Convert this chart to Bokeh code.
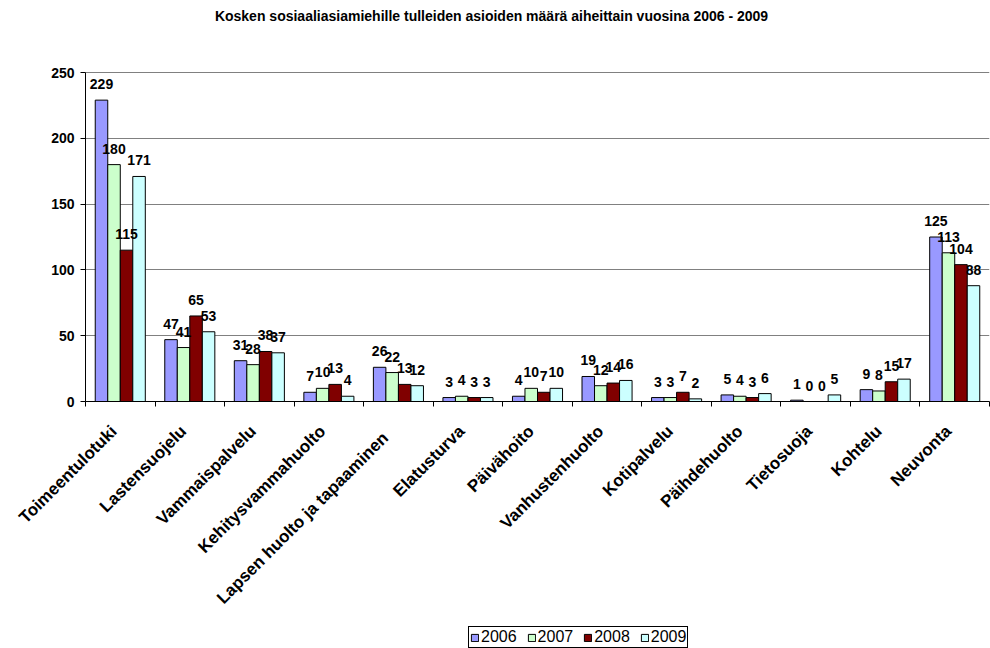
from bokeh.plotting import figure
from bokeh.layouts import column
from bokeh.models import Range1d, FixedTicker, Legend, LegendItem, ColumnDataSource, Label
from bokeh.embed import file_html
from bokeh.resources import INLINE
from bokeh.core.properties import value

title_text = "Kosken sosiaaliasiamiehille tulleiden asioiden määrä aiheittain vuosina 2006 - 2009"
categories = ["Toimeentulotuki", "Lastensuojelu", "Vammaispalvelu", "Kehitysvammahuolto",
              "Lapsen  huolto ja  tapaaminen", "Elatusturva", "Päivähoito", "Vanhustenhuolto",
              "Kotipalvelu", "Päihdehuolto", "Tietosuoja", "Kohtelu", "Neuvonta"]
years = ["2006", "2007", "2008", "2009"]
v2006 = [229, 47, 31, 7, 26, 3, 4, 19, 3, 5, 1, 9, 125]
v2007 = [180, 41, 28, 10, 22, 4, 10, 12, 3, 4, 0, 8, 113]
v2008 = [115, 65, 38, 13, 13, 3, 7, 14, 7, 3, 0, 15, 104]
v2009 = [171, 53, 37, 4, 12, 3, 10, 16, 2, 6, 5, 17, 88]
y_ticks = [0, 50, 100, 150, 200, 250]
colors = ["#9999FF", "#CCFFCC", "#800000", "#CCFFFF"]

series = [v2006, v2007, v2008, v2009]
offsets = [-0.27, -0.09, 0.09, 0.27]
bar_w = 0.18
FONT = "Liberation Sans"

n = len(categories)
centers = [i + 0.5 for i in range(n)]

# layout (pixels)
W = 990
H_CHART = 622
FRAME_LEFT = 85
FRAME_RIGHT_PAD = 1
AXIS_Y = 401          # pixel row of value 0
TOP_Y = 72            # pixel row of value 250
y_max = y_ticks[-1]
y_end = y_max * AXIS_Y / (AXIS_Y - TOP_Y)

p = figure(width=W, height=H_CHART, output_backend="svg", toolbar_location=None,
           x_range=Range1d(0, n), y_range=Range1d(0, y_end),
           min_border_left=FRAME_LEFT, min_border_right=FRAME_RIGHT_PAD,
           min_border_top=0, min_border_bottom=H_CHART - AXIS_Y)
p.outline_line_color = None
p.background_fill_color = "white"
p.border_fill_color = "white"

sources = []
for yr, vals, col, off in zip(years, series, colors, offsets):
    src = ColumnDataSource(dict(x=[c + off for c in centers], top=vals,
                                lab=[str(v) for v in vals]))
    sources.append(src)
    p.vbar(x="x", top="top", bottom=0, width=bar_w, source=src,
           fill_color=col, line_color="black", line_width=1)

for src in sources:
    p.text(x="x", y="top", text="lab", source=src, text_align="center",
           text_baseline="bottom", y_offset=-11, text_font=value(FONT),
           text_font_style="bold", text_font_size="14px", text_color="black")

title = Label(x=491 - FRAME_LEFT, y=AXIS_Y - 15, x_units="screen", y_units="screen",
              text=title_text, text_align="center", text_baseline="middle",
              text_font=FONT, text_font_style="bold", text_font_size="14px",
              text_color="black")
p.add_layout(title)

# x axis
lab_shift = 0.09
label_pos = [round(c - lab_shift, 4) for c in centers]
p.xaxis.ticker = FixedTicker(ticks=label_pos, minor_ticks=list(range(n + 1)))
p.xaxis.major_label_overrides = {lp: name for lp, name in zip(label_pos, categories)}
p.xaxis.major_label_orientation = 0.785398
p.xaxis.major_tick_out = 0
p.xaxis.major_tick_in = 0
p.xaxis.minor_tick_out = 5
p.xaxis.minor_tick_in = 0
p.xaxis.minor_tick_line_color = "black"
p.xaxis.major_label_standoff = 22
p.xaxis.major_label_text_font = FONT
p.xaxis.major_label_text_font_style = "bold"
p.xaxis.major_label_text_font_size = "17px"
p.xaxis.major_label_text_color = "black"
p.xaxis.axis_line_color = "black"
p.xgrid.visible = False

# y axis
p.yaxis.ticker = FixedTicker(ticks=y_ticks)
p.yaxis.bounds = (0, y_max)
p.yaxis.major_tick_out = 5
p.yaxis.major_tick_in = 0
p.yaxis.minor_tick_line_color = None
p.yaxis.major_label_standoff = 6
p.yaxis.major_label_text_font = FONT
p.yaxis.major_label_text_font_style = "bold"
p.yaxis.major_label_text_font_size = "14px"
p.yaxis.major_label_text_color = "black"
p.yaxis.axis_line_color = "black"
p.yaxis.major_tick_line_color = "black"
p.ygrid.grid_line_color = "#808080"
p.ygrid.grid_line_width = 1

# legend strip (its frame is aligned with the chart frame by the column layout)
lg = figure(width=W, height=648 - H_CHART, output_backend="svg", toolbar_location=None,
            x_range=Range1d(0, 1), y_range=Range1d(0, 1),
            x_axis_location=None, y_axis_location=None,
            min_border_left=0, min_border_right=0, min_border_top=0, min_border_bottom=0)
lg.outline_line_color = None
lg.xgrid.visible = False
lg.ygrid.visible = False
items = []
for yr, col in zip(years, colors):
    r = lg.vbar(x=[float("nan")], top=[float("nan")], width=0.1,
                fill_color=col, line_color="black", line_width=1)
    items.append(LegendItem(label=yr, renderers=[r]))

legend = Legend(items=items, orientation="horizontal", location=(468 - FRAME_LEFT, 0),
                label_text_font=FONT, label_text_font_size="16px", label_text_color="black",
                glyph_width=9, glyph_height=9, label_standoff=2, spacing=10,
                padding=1, margin=0, border_line_color="black", border_line_width=1,
                border_line_alpha=1.0, label_height=16, background_fill_alpha=1.0)
lg.add_layout(legend, "center")

layout = column(p, lg, spacing=0)
open("out.html", "w").write(file_html(layout, INLINE))
